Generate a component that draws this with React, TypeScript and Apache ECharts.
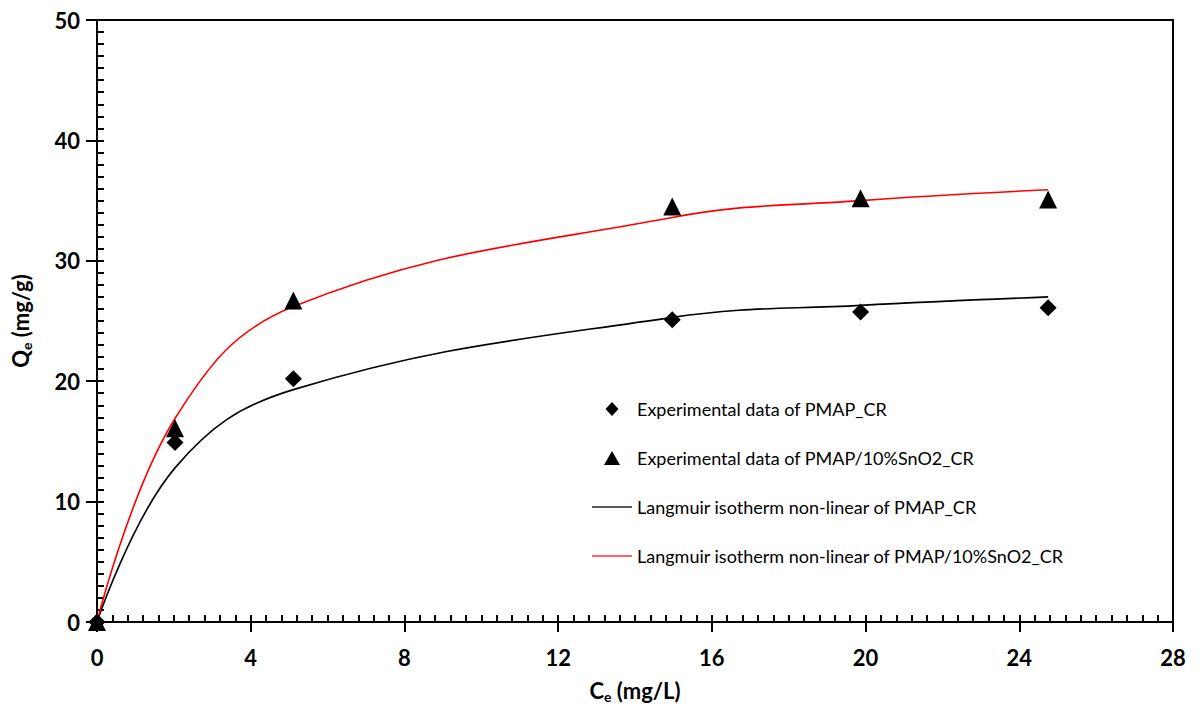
import React, { useEffect, useRef } from 'react';
import * as echarts from 'echarts';

// Data
const ceValues = [0, 2.03, 5.11, 14.97, 19.87, 24.75];
const qePMAP = [0, 14.9, 20.2, 25.1, 25.75, 26.1];
const qeSnO2 = [0, 16.1, 26.7, 34.5, 35.2, 35.1];
const fitPMAP = [0, 12.8, 19.3, 25.3, 26.3, 27.0];
const fitSnO2 = [0, 16.9, 26.2, 33.6, 35.0, 35.9];

const seriesNames = [
  'Experimental data of PMAP_CR',
  'Experimental data of PMAP/10%SnO2_CR',
  'Langmuir isotherm non-linear of PMAP_CR',
  'Langmuir isotherm non-linear of PMAP/10%SnO2_CR',
];

const xTicks = { min: 0, max: 28, interval: 4, minorInterval: 0.4 };
const yTicks = { min: 0, max: 50, interval: 10, minorInterval: 1 };

const FONT = 'Lato';

function pairs(xs: number[], ys: number[]) {
  return xs.map((x, i) => [x, ys[i]]);
}

export default function App() {
  const ref = useRef<HTMLDivElement>(null);

  useEffect(() => {
    if (!ref.current) return;
    const chart = echarts.init(ref.current, undefined, { renderer: 'svg' });

    const diamondIcon = 'path://M0,7M40,7M13.5,7L20,0L26.5,7L20,14Z';
    const triangleIcon = 'path://M0,7M40,7M12,14L20,0L28,14Z';
    const lineIcon = 'path://M0,0M40,14M0,6.2L40,6.2L40,7.8L0,7.8Z';

    const boldLabel = { fontFamily: FONT, fontWeight: 'bold' as const, fontSize: 22, color: '#000' };
    const nameRich = {
      b: { fontFamily: FONT, fontWeight: 'bold', fontSize: 22, color: '#000' },
      s: { fontFamily: FONT, fontWeight: 'bold', fontSize: 14, color: '#000', padding: [11, 0, 0, 0] },
    };

    chart.setOption({
      animation: false,
      backgroundColor: '#fff',
      grid: {
        left: 97,
        right: 27,
        top: 20,
        bottom: 93,
        show: true,
        borderColor: '#000',
        borderWidth: 2,
        backgroundColor: 'transparent',
      },
      legend: {
        orient: 'vertical',
        left: 587,
        top: 395,
        itemWidth: 40,
        itemHeight: 14,
        itemGap: 31,
        selectedMode: false,
        textStyle: { fontFamily: FONT, fontSize: 18, color: '#000' },
        data: [
          { name: seriesNames[0], icon: diamondIcon, itemStyle: { color: '#000', opacity: 1 } },
          { name: seriesNames[1], icon: triangleIcon, itemStyle: { color: '#000', opacity: 1 } },
          { name: seriesNames[2], icon: lineIcon, itemStyle: { color: '#222', opacity: 1 } },
          { name: seriesNames[3], icon: lineIcon, itemStyle: { color: '#ff3030', opacity: 1 } },
        ],
      },
      xAxis: [
        {
          type: 'value',
          min: xTicks.min,
          max: xTicks.max,
          interval: xTicks.interval,
          position: 'bottom',
          splitLine: { show: false },
          axisLine: { show: true, onZero: false, lineStyle: { color: '#000', width: 2 } },
          axisTick: { show: true, inside: false, length: 10, lineStyle: { color: '#000', width: 2 } },
          axisLabel: { ...boldLabel, margin: 24 },
          name: '{b|C}{s|e}{b| (mg/L)}',
          nameLocation: 'middle',
          nameGap: 56,
          nameTextStyle: { rich: nameRich },
        },
        {
          type: 'value',
          min: xTicks.min,
          max: xTicks.max,
          interval: xTicks.minorInterval,
          position: 'bottom',
          splitLine: { show: false },
          axisLine: { show: false, onZero: false },
          axisTick: { show: true, inside: true, length: 7, lineStyle: { color: '#000', width: 2 } },
          axisLabel: { show: false },
        },
      ],
      yAxis: [
        {
          type: 'value',
          min: yTicks.min,
          max: yTicks.max,
          interval: yTicks.interval,
          position: 'left',
          splitLine: { show: false },
          axisLine: { show: true, onZero: false, lineStyle: { color: '#000', width: 2 } },
          axisTick: { show: true, inside: false, length: 11, lineStyle: { color: '#000', width: 2 } },
          axisLabel: { ...boldLabel, margin: 17 },
          name: '{b|Q}{s|e}{b| (mg/g)}',
          nameLocation: 'middle',
          nameGap: 64,
          nameRotate: 90,
          nameTextStyle: { rich: nameRich },
        },
        {
          type: 'value',
          min: yTicks.min,
          max: yTicks.max,
          interval: yTicks.minorInterval,
          position: 'left',
          splitLine: { show: false },
          axisLine: { show: false, onZero: false },
          axisTick: { show: true, inside: true, length: 7, lineStyle: { color: '#000', width: 2 } },
          axisLabel: { show: false },
        },
      ],
      series: [
        {
          name: seriesNames[2],
          type: 'line',
          data: pairs(ceValues, fitPMAP),
          smooth: 0.4,
          symbol: 'none',
          color: '#000',
          lineStyle: { color: '#000', width: 1.6 },
          z: 2,
        },
        {
          name: seriesNames[3],
          type: 'line',
          data: pairs(ceValues, fitSnO2),
          smooth: 0.4,
          symbol: 'none',
          color: '#ff0000',
          lineStyle: { color: '#ff0000', width: 1.6 },
          z: 2,
        },
        {
          name: seriesNames[0],
          type: 'scatter',
          data: pairs(ceValues, qePMAP),
          symbol: 'diamond',
          symbolSize: 17,
          itemStyle: { color: '#000', opacity: 1 },
          z: 3,
        },
        {
          name: seriesNames[1],
          type: 'scatter',
          data: pairs(ceValues, qeSnO2),
          symbol: 'triangle',
          symbolSize: 18,
          itemStyle: { color: '#000', opacity: 1 },
          z: 3,
        },
      ],
    });

    return () => chart.dispose();
  }, []);

  return <div ref={ref} style={{ width: 1200, height: 715, position: 'absolute', left: 0, top: 0 }} />;
}
